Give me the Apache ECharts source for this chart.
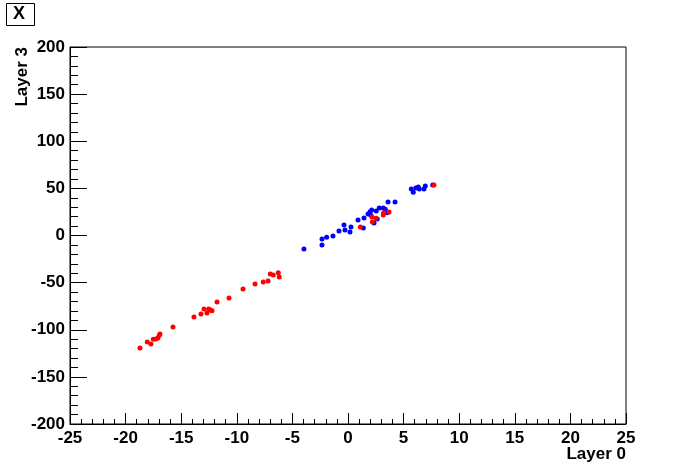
<!DOCTYPE html>
<html><head><meta charset="utf-8">
<script src="https://cdn.jsdelivr.net/npm/echarts@6/dist/echarts.min.js"></script>
<style>html,body{margin:0;padding:0;background:#fff}#c{width:696px;height:472px}</style>
</head><body><div id="c"></div>
<script>
const xTitle = "Layer 0";
const yTitle = "Layer 3";
const boxTitle = "X";
const redX = [-18.71,-18.05,-17.72,-17.51,-17.27,-17.09,-16.97,-16.91,-15.74,-13.85,-13.22,-12.95,-12.68,-12.53,-12.35,-12.23,-11.78,-10.70,-9.44,-8.36,-7.62,-7.19,-6.99,-6.72,-6.27,-6.18,1.11,2.19,2.16,2.52,3.17,3.21,3.69,7.73];
const redY = [-119.4,-113.0,-115.1,-110.1,-109.8,-108.8,-105.9,-104.5,-97.1,-86.5,-83.3,-78.0,-82.2,-78.0,-79.0,-79.8,-70.6,-66.3,-56.8,-51.5,-49.3,-48.3,-40.8,-41.9,-39.5,-44.0,9.0,14.3,19.6,18.2,21.8,24.2,24.9,53.6];
const blueX = [-3.96,-2.34,-2.34,-1.92,-1.35,-0.81,-0.27,0.18,0.27,-0.36,0.90,1.38,1.44,1.80,1.98,2.13,2.04,2.34,2.54,2.63,2.81,3.17,3.35,3.53,3.60,4.23,5.69,5.87,6.09,6.32,6.41,6.83,6.95,7.62];
const blueY = [-14.3,-10.1,-3.7,-1.9,-0.5,4.8,5.8,3.7,9.0,11.1,16.4,8.0,18.6,22.8,25.3,27.1,21.8,13.3,26.0,17.5,29.2,29.2,27.8,24.2,35.5,35.5,49.3,45.8,50.4,51.5,49.3,49.3,52.5,53.6];

const font = "'Liberation Sans', Arial, sans-serif";
const zip = (a, b) => a.map((v, i) => [v, b[i]]);
const chart = echarts.init(document.getElementById('c'), null, {renderer: 'canvas'});
const labelStyle = {color: '#000', fontFamily: font, fontWeight: 'bold', fontSize: 17};
chart.setOption({
  animation: false,
  backgroundColor: '#fff',
  grid: {left: 70, top: 47, width: 556, height: 377, show: true, borderColor: '#000', borderWidth: 1, backgroundColor: 'transparent'},
  xAxis: {
    type: 'value', min: -25, max: 25, interval: 5,
    axisLine: {show: true, onZero: false, lineStyle: {color: '#000', width: 1}},
    axisTick: {show: true, inside: true, length: 11, lineStyle: {color: '#000'}},
    minorTick: {show: true, splitNumber: 5, length: 5, lineStyle: {color: '#000'}},
    splitLine: {show: false},
    axisLabel: Object.assign({margin: 6}, labelStyle)
  },
  yAxis: {
    type: 'value', min: -200, max: 200, interval: 50,
    axisLine: {show: true, onZero: false, lineStyle: {color: '#000', width: 1}},
    axisTick: {show: true, inside: true, length: 17, lineStyle: {color: '#000'}},
    minorTick: {show: true, splitNumber: 5, length: 8, lineStyle: {color: '#000'}},
    splitLine: {show: false},
    axisLabel: Object.assign({margin: 5}, labelStyle)
  },
  series: [
    {type: 'scatter', data: zip(blueX, blueY), symbol: 'circle', symbolSize: 5, itemStyle: {color: '#0000ff', opacity: 1}},
    {type: 'scatter', data: zip(redX, redY), symbol: 'circle', symbolSize: 5, itemStyle: {color: '#ff0000', opacity: 1}}
  ],
  graphic: [
    {type: 'rect', left: 6, top: 3, shape: {width: 28, height: 22}, style: {fill: '#fff', stroke: '#000', lineWidth: 1}},
    {type: 'text', left: 13, top: 5, style: {text: boxTitle, fill: '#000', font: 'bold 18px ' + font}},
    {type: 'text', right: 70, top: 446, style: {text: xTitle, fill: '#000', font: 'bold 17px ' + font}},
    {type: 'text', x: 14, y: 47, rotation: Math.PI / 2, style: {text: yTitle, fill: '#000', font: 'bold 17px ' + font, align: 'right', verticalAlign: 'top'}}
  ]
});
</script></body></html>
